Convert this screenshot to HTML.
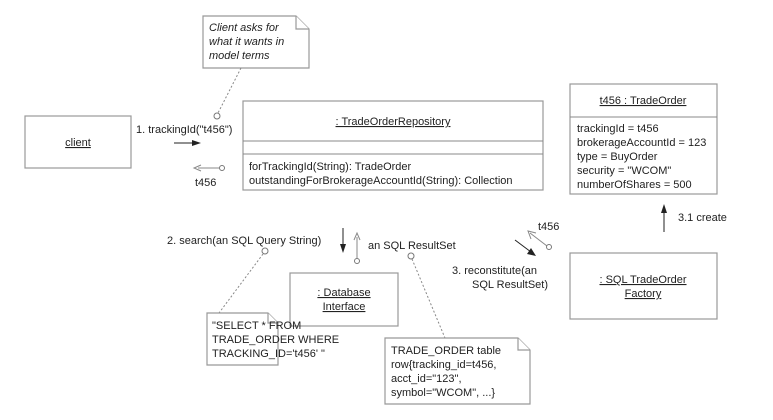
<!DOCTYPE html>
<html><head><meta charset="utf-8"><style>
html,body{margin:0;padding:0;background:#fff;}
svg{display:block;font-family:"Liberation Sans",sans-serif;font-size:11px;fill:#222;}
.b{fill:#fff;stroke:#999;stroke-width:1.2;}
.l{stroke:#222;stroke-width:1;fill:none;}
.d{stroke:#888;stroke-width:1;stroke-dasharray:2,2;fill:none;}
.c{fill:#fff;stroke:#777;stroke-width:1;}
.g{stroke:#888;stroke-width:1;fill:none;}
</style></head><body>
<svg width="773" height="420" viewBox="0 0 773 420">
<!-- note 1 -->
<path class="b" d="M203 16 H296 L309 29 V68 H203 Z"/><path class="b" d="M296 16 V29 H309"/>
<text x="209" y="31" font-style="italic">Client asks for</text>
<text x="209" y="45" font-style="italic">what it wants in</text>
<text x="209" y="59" font-style="italic">model terms</text>
<line class="d" x1="241" y1="68" x2="218" y2="113"/><circle class="c" cx="217" cy="116" r="3"/>
<!-- client -->
<rect class="b" x="25" y="116" width="106" height="52"/>
<text x="78" y="146" text-anchor="middle" text-decoration="underline">client</text>
<text x="136" y="133">1. trackingId("t456")</text>
<line class="l" x1="174" y1="143" x2="194" y2="143"/><path d="M192 140 L201 143 L192 146Z" fill="#222"/>
<line class="g" x1="198" y1="168" x2="219" y2="168"/><path class="g" d="M201 165 L194 168 L201 171"/><circle class="c" cx="222" cy="168" r="2.5"/>
<text x="195" y="186">t456</text>
<!-- repository -->
<rect class="b" x="243" y="101" width="300" height="89"/>
<line class="g" x1="243" y1="141" x2="543" y2="141"/><line class="g" x1="243" y1="154" x2="543" y2="154"/>
<text x="393" y="125" text-anchor="middle" text-decoration="underline">: TradeOrderRepository</text>
<text x="249" y="170">forTrackingId(String): TradeOrder</text>
<text x="249" y="184">outstandingForBrokerageAccountId(String): Collection</text>
<!-- TradeOrder -->
<rect class="b" x="570" y="84" width="147" height="110"/>
<line class="g" x1="570" y1="117" x2="717" y2="117"/>
<text x="643" y="104" text-anchor="middle" text-decoration="underline">t456 : TradeOrder</text>
<text x="577" y="132">trackingId = t456</text>
<text x="577" y="146">brokerageAccountId = 123</text>
<text x="577" y="160">type = BuyOrder</text>
<text x="577" y="174">security = "WCOM"</text>
<text x="577" y="188">numberOfShares = 500</text>
<line class="l" x1="664" y1="232" x2="664" y2="210"/><path d="M661 213 L664 204 L667 213Z" fill="#222"/>
<text x="678" y="221">3.1 create</text>
<!-- factory -->
<rect class="b" x="570" y="253" width="147" height="66"/>
<text x="643" y="283" text-anchor="middle" text-decoration="underline">: SQL TradeOrder</text>
<text x="643" y="297" text-anchor="middle" text-decoration="underline">Factory</text>
<text x="538" y="230">t456</text>
<line class="l" x1="515" y1="240" x2="531" y2="252"/><path d="M527 254 L536 256 L531 248Z" fill="#222"/>
<line class="g" x1="530" y1="233" x2="547" y2="246"/><path class="g" d="M531 239 L528 231 L536 233"/><circle class="c" cx="549" cy="247" r="2.5"/>
<text x="452" y="274">3. reconstitute(an</text>
<text x="472" y="288">SQL ResultSet)</text>
<!-- search -->
<text x="167" y="244">2. search(an SQL Query String)</text>
<circle class="c" cx="265" cy="251" r="3"/>
<line class="d" x1="263" y1="254" x2="219" y2="313"/>
<line class="l" x1="343" y1="228" x2="343" y2="246"/><path d="M340 244 L343 253 L346 244Z" fill="#222"/>
<line class="g" x1="357" y1="237" x2="357" y2="258"/><path class="g" d="M354 240 L357 233 L360 240"/><circle class="c" cx="357" cy="261" r="2.5"/>
<text x="368" y="249">an SQL ResultSet</text>
<circle class="c" cx="411" cy="256" r="3"/>
<line class="d" x1="412" y1="259" x2="445" y2="338"/>
<!-- DB -->
<rect class="b" x="290" y="273" width="108" height="53"/>
<text x="344" y="296" text-anchor="middle" text-decoration="underline">: Database</text>
<text x="344" y="310" text-anchor="middle" text-decoration="underline">Interface</text>
<!-- SELECT note -->
<path class="b" d="M207 313 H268 L278 323 V365 H207 Z"/><path class="b" d="M268 313 V323 H278"/>
<text x="212" y="329">"SELECT * FROM</text>
<text x="212" y="343">TRADE_ORDER WHERE</text>
<text x="212" y="357">TRACKING_ID='t456' "</text>
<!-- TRADE_ORDER note -->
<path class="b" d="M385 338 H518 L530 350 V404 H385 Z"/><path class="b" d="M518 338 V350 H530"/>
<text x="391" y="354">TRADE_ORDER table</text>
<text x="391" y="368">row{tracking_id=t456,</text>
<text x="391" y="382">acct_id="123",</text>
<text x="391" y="396">symbol="WCOM", ...}</text>
</svg>
</body></html>
